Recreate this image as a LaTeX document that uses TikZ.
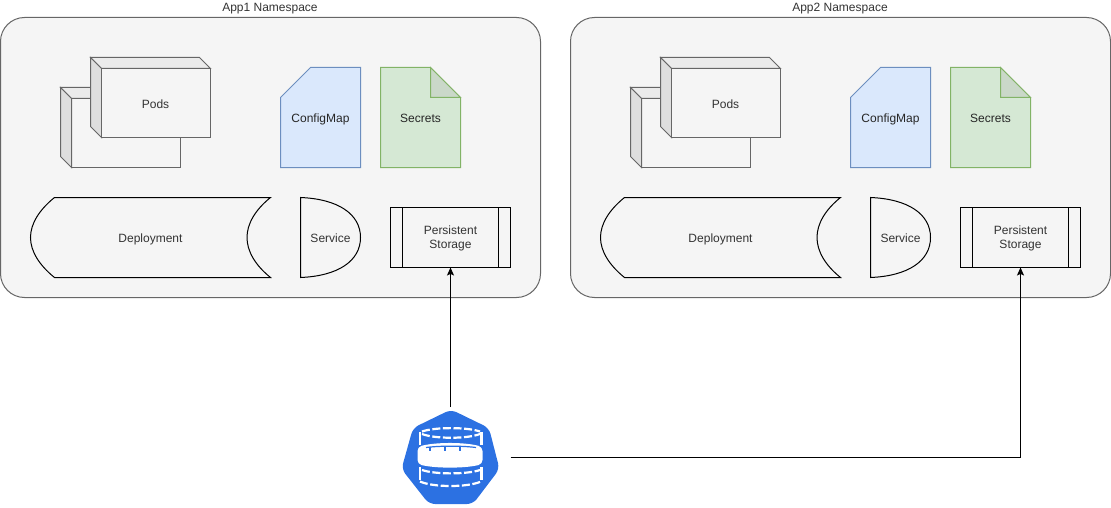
\documentclass[tikz,border=0pt]{standalone}
\usepackage{fontspec}
\setmainfont{Liberation Sans}
\usetikzlibrary{arrows.meta,calc}
\definecolor{nsfill}{HTML}{F5F5F5}
\definecolor{nsline}{HTML}{666666}
\definecolor{nstext}{HTML}{333333}
\definecolor{cmfill}{HTML}{DAE8FC}
\definecolor{cmline}{HTML}{6C8EBF}
\definecolor{secfill}{HTML}{D5E8D4}
\definecolor{secfold}{HTML}{CAD8C9}
\definecolor{secline}{HTML}{82B366}
\definecolor{kblue}{HTML}{2C71E2}
\tikzset{
  lbl/.style={font=\fontsize{12}{14}\selectfont, text=nstext, align=center, inner sep=0pt, text height=8.6pt, text depth=2.5pt},
  dark/.style={lbl, text=black!85},
  nsbox/.style={draw=nsline, fill=nsfill, line width=1pt, rounded corners=24pt},
  podline/.style={draw=nsline, line width=1pt, line join=miter},
  blk/.style={draw=black, line width=1pt},
  conn/.style={draw=black, line width=1pt, -{Stealth[length=8pt,width=7pt,inset=1.6pt]}},
  whd/.style={draw=white, line width=2.2pt, dash pattern=on 8pt off 2.6pt},
  ns/.pic={
    \path[nsbox] (0.5,17.5) rectangle (540.5,297.5);
    \node[lbl] (-title) at (270,8) {#1};
    % back pod
    \path[podline, fill=nsfill] (71,98) rectangle (180.5,167.5);
    \path[podline, fill=black!8] (60.5,87.5) -- (71.5,98.5) -- (180.5,98.5) -- (169.5,87.5) -- cycle;
    \path[podline, fill=black!13] (60.5,87.5) -- (71.5,98.5) -- (71.5,167.5) -- (60.5,156.5) -- cycle;
    \path[podline] (71.5,98.5) rectangle (180.5,167.5);
    % front pod
    \path[podline, fill=black!8] (90.5,57.5) -- (101.5,68.5) -- (210.5,68.5) -- (199.5,57.5) -- cycle;
    \path[podline, fill=black!13] (90.5,57.5) -- (101.5,68.5) -- (101.5,137.5) -- (90.5,126.5) -- cycle;
    \path[podline, fill=nsfill] (101.5,68.5) rectangle (210.5,137.5);
    \node[lbl] (-pods) at (155.5,105) {Pods};
    % config map
    \path[draw=cmline, fill=cmfill, line width=1pt] (310.5,67.5) -- (360.5,67.5) -- (360.5,167.5) -- (280.5,167.5) -- (280.5,97.5) -- cycle;
    \node[dark] (-cm) at (320.5,119) {ConfigMap};
    % secrets
    \path[draw=secline, fill=secfill, line width=1pt] (380.5,67.5) -- (430.5,67.5) -- (460.5,97.5) -- (460.5,167.5) -- (380.5,167.5) -- cycle;
    \path[draw=secline, fill=secfold, line width=1pt] (430.5,67.5) -- (460.5,97.5) -- (430.5,97.5) -- cycle;
    \node[dark] (-sec) at (420.5,119) {Secrets};
    % deployment
    \path[blk] (54.5,197.5) -- (270.5,197.5) .. controls (255,210) and (247,224) .. (247,237.5) .. controls (247,251) and (255,265) .. (270.5,277.5) -- (54.5,277.5) .. controls (39,265) and (30.5,251) .. (30.5,237.5) .. controls (30.5,224) and (39,210) .. (54.5,197.5) -- cycle;
    \node[lbl] (-dep) at (150.5,239) {Deployment};
    % service
    \path[blk] (300.5,197.5) .. controls (338,199) and (360.5,214) .. (360.5,237.5) .. controls (360.5,261) and (338,276) .. (300.5,277.5) -- cycle;
    \node[lbl] (-svc) at (330.5,239) {Service};
    % storage
    \node[blk, minimum width=120pt, minimum height=60pt, inner sep=0pt, outer sep=0pt] (-store) at (450.5,237.5) {};
    \draw[blk] (402.5,207.5) -- (402.5,267.5) (498.5,207.5) -- (498.5,267.5);
    \node[lbl] (-storetext) at (450.5,245.5) {Persistent\\Storage};
  }
}
\begin{document}
\begin{tikzpicture}[x=1pt,y=-1pt]
\useasboundingbox (0,0) rectangle (1111,508);
\pic (a) at (0,0) {ns={App1 Namespace}};
\pic (b) at (570,0) {ns={App2 Namespace}};
% persistent volume icon
\node[minimum width=120pt, minimum height=100pt, inner sep=0pt, outer sep=0pt] (pv) at (450.5,457) {};
\fill[kblue, rounded corners=6pt] (451,409.5) -- (489,428) -- (499.5,469) -- (473,504) -- (429,504) -- (401.5,469) -- (413,428) -- cycle;
% top ring
\draw[whd] (422,431.5) .. controls (435,427) and (467,427) .. (480,431.5);
\draw[whd] (422,434) .. controls (435,439) and (467,439) .. (480,434);
\draw[white, line width=2.2pt] (420,432) -- (420,445) (481.5,432) -- (481.5,445);
% middle disc
\fill[white, rounded corners=4pt] (417.5,447) .. controls (435,442) and (465,442) .. (482.5,447) -- (482.5,464) .. controls (465,468.5) and (435,468.5) .. (417.5,464) -- cycle;
\draw[kblue, line width=1.2pt] (426,447.5) .. controls (440,445.7) and (462,445.7) .. (476,447.5);
\draw[kblue, line width=1.3pt] (430,447) -- (430,450.5) (445,446.5) -- (445,450.5) (460,446.5) -- (460,450.5);
% bottom ring
\draw[whd] (422,470) .. controls (435,474.5) and (467,474.5) .. (480,470);
\draw[whd] (420,481.5) .. controls (433,487.5) and (468,487.5) .. (481,481.5);
\draw[white, line width=2.2pt] (420,467) -- (420,480) (481.5,467) -- (481.5,480);
% connectors
\draw[conn] (pv.north) -- (a-store.south);
\draw[conn] (pv.east) -| (b-store.south);
\end{tikzpicture}
\end{document}
